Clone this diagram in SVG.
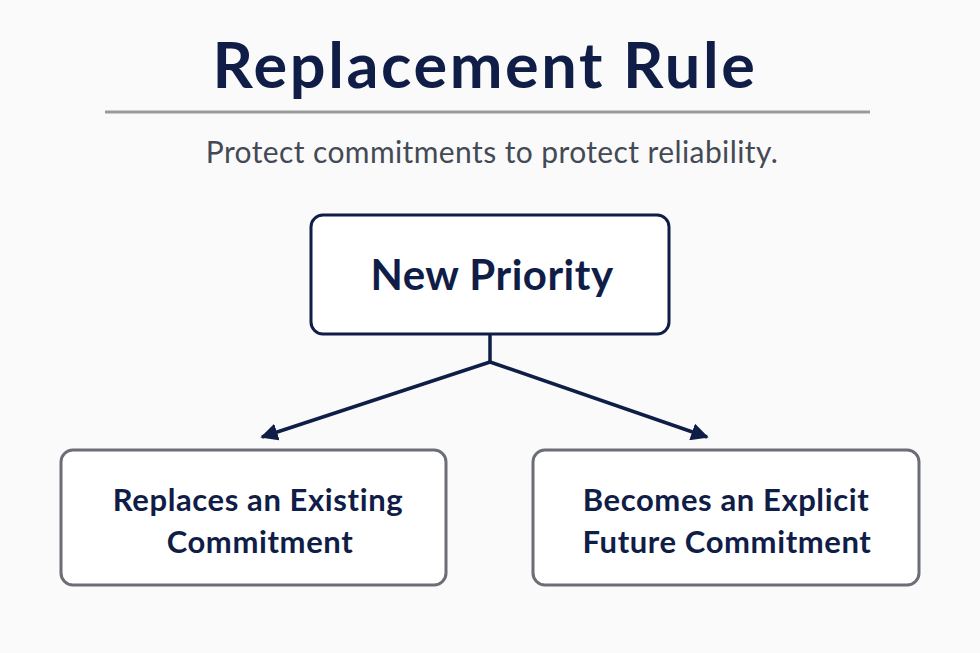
<svg xmlns="http://www.w3.org/2000/svg" width="980" height="653" viewBox="0 0 980 653">
<defs>
<style>
.t{font-family:Lato,"Open Sans",sans-serif;fill:#0f1d47;text-anchor:middle}
.n{font-size:31px;font-weight:700;letter-spacing:0.6px}
.box{fill:#ffffff;stroke-width:3}
.conn{fill:none;stroke:#0f1d47;stroke-width:3.5}
</style>
<marker id="ah" viewBox="0 0 10 10" refX="9" refY="5" markerWidth="5" markerHeight="5" orient="auto" markerUnits="strokeWidth">
<path d="M0,0 L10,5 L0,10 Z" fill="#0f1d47"/>
</marker>
</defs>
<rect width="980" height="653" fill="#fafafa"/>
<g id="title">
<text class="t" x="485" y="88" font-size="63" font-weight="700" letter-spacing="2.6">Replacement Rule</text>
<line x1="105" y1="112" x2="870" y2="112" stroke="#9a9a9a" stroke-width="3"/>
<text x="492" y="163" font-family="Lato,'Open Sans',sans-serif" font-size="30" fill="#444a55" text-anchor="middle" letter-spacing="0.4">Protect commitments to protect reliability.</text>
</g>
<g id="connectors">
<polyline class="conn" points="490,334 490,362"/>
<line class="conn" x1="490" y1="362" x2="262" y2="437" marker-end="url(#ah)"/>
<line class="conn" x1="490" y1="362" x2="707" y2="437" marker-end="url(#ah)"/>
</g>
<g id="new-priority">
<rect class="box" x="311" y="215" width="358" height="119" rx="12" stroke="#0f1d47"/>
<text class="t" x="492" y="290" font-size="42" font-weight="700" letter-spacing="0.5">New Priority</text>
</g>
<g id="replaces">
<rect class="box" x="61" y="450" width="385" height="135" rx="12" stroke="#6b6e76"/>
<text class="t n" x="258" y="511">Replaces an Existing</text>
<text class="t n" x="260" y="553">Commitment</text>
</g>
<g id="becomes">
<rect class="box" x="533" y="450" width="386" height="135" rx="12" stroke="#6b6e76"/>
<text class="t n" x="726" y="511">Becomes an Explicit</text>
<text class="t n" x="727" y="553">Future Commitment</text>
</g>
</svg>
